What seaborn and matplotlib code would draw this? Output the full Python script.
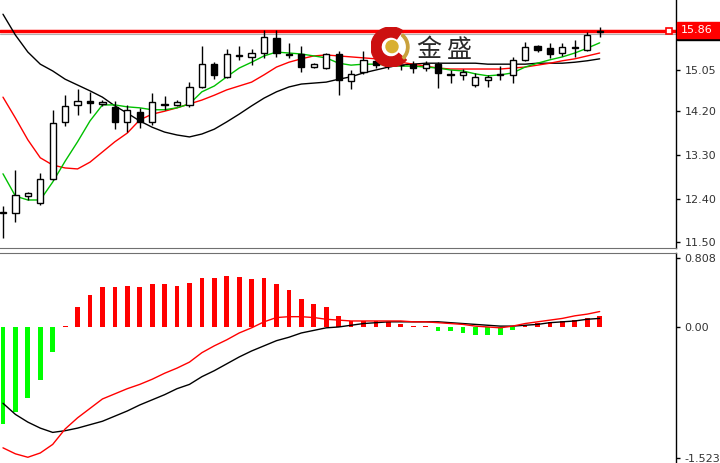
import numpy as np
import pandas as pd
import matplotlib
matplotlib.use("Agg")
import matplotlib.pyplot as plt
import matplotlib.transforms as mtransforms
from matplotlib.patches import Wedge, Circle, Rectangle
import seaborn as sns

# candles (daily)
opens = [12.10, 12.10, 12.45, 12.31, 12.80, 13.98, 14.33, 14.41, 14.35, 14.29,
         13.98, 14.18, 13.98, 14.33, 14.33, 14.33, 14.70, 15.17, 14.91, 15.34,
         15.32, 15.40, 15.71, 15.38, 15.38, 15.11, 15.09, 15.38, 14.82, 15.01,
         15.24, 15.13, 15.15, 15.17, 15.09, 15.17, 14.97, 14.95, 14.74, 14.84,
         14.95, 14.95, 15.26, 15.54, 15.50, 15.40, 15.50, 15.46, 15.83]
highs = [12.25, 12.99, 12.53, 12.93, 14.23, 14.53, 14.66, 14.60, 14.43, 14.41,
         14.33, 14.27, 14.58, 14.51, 14.43, 14.80, 15.54, 15.21, 15.48, 15.54,
         15.48, 15.87, 15.87, 15.61, 15.54, 15.19, 15.40, 15.44, 15.05, 15.44,
         15.30, 15.24, 15.24, 15.24, 15.24, 15.21, 15.05, 15.07, 14.99, 14.95,
         15.13, 15.32, 15.63, 15.57, 15.61, 15.61, 15.67, 15.83, 15.93]
lows = [11.59, 11.92, 12.37, 12.27, 12.78, 13.90, 14.12, 14.16, 14.31, 13.83,
        13.77, 13.85, 13.92, 14.23, 14.31, 14.29, 14.68, 14.86, 14.89, 15.26,
        15.15, 15.30, 15.32, 15.30, 15.01, 15.09, 15.07, 14.53, 14.66, 14.97,
        15.09, 15.07, 15.05, 14.99, 15.03, 14.68, 14.78, 14.84, 14.70, 14.70,
        14.84, 14.78, 15.24, 15.42, 15.30, 15.34, 15.32, 15.44, 15.73]
closes = [12.12, 12.47, 12.51, 12.80, 13.96, 14.31, 14.41, 14.37, 14.39, 13.98,
          14.23, 13.98, 14.39, 14.35, 14.39, 14.70, 15.17, 14.95, 15.38, 15.36,
          15.40, 15.73, 15.40, 15.36, 15.11, 15.17, 15.38, 14.84, 14.97, 15.26,
          15.15, 15.19, 15.16, 15.09, 15.17, 14.99, 14.95, 15.01, 14.91, 14.91,
          14.97, 15.26, 15.52, 15.46, 15.38, 15.52, 15.52, 15.77, 15.86]

# moving averages
ma_fast = [12.91, 12.45, 12.37, 12.37, 12.74, 13.17, 13.57, 14.00, 14.33, 14.33,
           14.29, 14.27, 14.23, 14.23, 14.27, 14.35, 14.60, 14.72, 14.91, 15.09,
           15.21, 15.34, 15.42, 15.40, 15.38, 15.34, 15.30, 15.19, 15.15, 15.17,
           15.17, 15.15, 15.13, 15.13, 15.11, 15.09, 15.05, 15.03, 14.97, 14.93,
           14.95, 14.99, 15.11, 15.19, 15.26, 15.32, 15.40, 15.50, 15.61]
ma_mid = [14.49, 14.06, 13.61, 13.24, 13.09, 13.03, 13.01, 13.15, 13.36, 13.57,
          13.75, 14.02, 14.14, 14.20, 14.27, 14.35, 14.43, 14.53, 14.64, 14.72,
          14.80, 14.95, 15.11, 15.21, 15.28, 15.34, 15.36, 15.34, 15.32, 15.30,
          15.28, 15.24, 15.21, 15.17, 15.13, 15.09, 15.07, 15.07, 15.07, 15.07,
          15.07, 15.09, 15.11, 15.15, 15.19, 15.24, 15.28, 15.34, 15.40]
ma_slow = [16.20, 15.77, 15.42, 15.17, 15.03, 14.86, 14.74, 14.62, 14.49, 14.31,
           14.16, 14.00, 13.87, 13.77, 13.71, 13.67, 13.73, 13.83, 13.98, 14.14,
           14.31, 14.47, 14.60, 14.70, 14.76, 14.78, 14.80, 14.86, 14.91, 14.99,
           15.05, 15.11, 15.15, 15.17, 15.19, 15.19, 15.19, 15.19, 15.19, 15.17,
           15.17, 15.17, 15.17, 15.19, 15.19, 15.19, 15.21, 15.24, 15.28]

# MACD panel
macd_hist = [-1.13, -0.99, -0.83, -0.62, -0.29, 0.01, 0.23, 0.37, 0.47, 0.47,
             0.48, 0.47, 0.50, 0.50, 0.48, 0.51, 0.57, 0.57, 0.60, 0.58,
             0.56, 0.57, 0.50, 0.43, 0.33, 0.27, 0.23, 0.13, 0.07, 0.07,
             0.07, 0.06, 0.03, 0.01, 0.01, -0.05, -0.05, -0.07, -0.09, -0.09,
             -0.09, -0.03, 0.02, 0.05, 0.06, 0.07, 0.08, 0.10, 0.13]
macd_line = [-1.41, -1.48, -1.52, -1.47, -1.37, -1.19, -1.06, -0.95, -0.84, -0.78,
             -0.72, -0.67, -0.61, -0.54, -0.48, -0.41, -0.30, -0.22, -0.15, -0.07,
             -0.01, 0.06, 0.11, 0.12, 0.12, 0.11, 0.09, 0.08, 0.07, 0.07,
             0.07, 0.07, 0.07, 0.06, 0.06, 0.05, 0.04, 0.03, 0.01, 0.00,
             -0.01, 0.01, 0.04, 0.06, 0.08, 0.10, 0.13, 0.15, 0.18]
signal_line = [-0.89, -1.02, -1.11, -1.18, -1.23, -1.21, -1.18, -1.14, -1.10, -1.04,
               -0.98, -0.91, -0.85, -0.79, -0.72, -0.67, -0.58, -0.51, -0.43, -0.35,
               -0.28, -0.22, -0.16, -0.12, -0.07, -0.04, -0.01, 0.00, 0.02, 0.04,
               0.05, 0.06, 0.06, 0.06, 0.06, 0.06, 0.05, 0.04, 0.03, 0.02,
               0.01, 0.01, 0.02, 0.03, 0.05, 0.06, 0.07, 0.09, 0.10]

price_ticks = [15.05, 14.20, 13.30, 12.40, 11.50]
macd_ticks = [0.808, 0.00, -1.523]
macd_tick_labels = ["0.808", "0.00", "-1.523"]
last_price = 15.86
logo_chars = ["金", "盛"]

df = pd.DataFrame({
    "idx": np.arange(len(opens)),
    "open": opens, "high": highs, "low": lows, "close": closes,
    "ma_fast": ma_fast, "ma_mid": ma_mid, "ma_slow": ma_slow,
    "hist": macd_hist, "macd": macd_line, "signal": signal_line,
})

sns.set_style("white")
plt.rcParams["font.family"] = ["DejaVu Sans"]

W, H = 720, 463
fig = plt.figure(figsize=(7.2, 4.63), dpi=100)
plot_w = 676 / W
ax1 = fig.add_axes([0, 1 - 248 / H, plot_w, 248 / H])
ax2 = fig.add_axes([0, 0, plot_w, 210 / H])

# --- price panel ---
ax1.axhline(last_price - 0.06, color="#b0b0b0", lw=0.8, zorder=1)
ax1.axhline(last_price, color="#ff0000", lw=2.5, zorder=1)

sns.lineplot(data=df, x="idx", y="ma_slow", color="black", lw=1, ax=ax1, zorder=2)
sns.lineplot(data=df, x="idx", y="ma_mid", color="#ff0000", lw=1, ax=ax1, zorder=2)
sns.lineplot(data=df, x="idx", y="ma_fast", color="#00c000", lw=1, ax=ax1, zorder=2)

ax1.vlines(df["idx"], df["low"], df["high"], color="black", lw=1, zorder=3)
body_lo = df[["open", "close"]].min(axis=1)
body_h = (df["close"] - df["open"]).abs().clip(lower=0.012)
up = df["close"] >= df["open"]
ax1.bar(df["idx"], body_h, bottom=body_lo, width=0.5,
        color=np.where(up, "white", "black"), edgecolor="black", lw=1, zorder=4)

ax1.set_xlim(-0.24, 54.14)
ax1.set_ylim(11.38, 16.493)

# --- MACD panel ---
hist_colors = np.where(df["hist"] >= 0, "#ff0000", "#00ff00")
ax2.bar(df["idx"], df["hist"], width=0.38, color=hist_colors, lw=0, zorder=2)
sns.lineplot(data=df, x="idx", y="signal", color="black", lw=1, ax=ax2, zorder=3)
sns.lineplot(data=df, x="idx", y="macd", color="#ff0000", lw=1, ax=ax2, zorder=3)
ax2.set_xlim(-0.24, 54.14)
ax2.set_ylim(-1.587, 0.863)

for ax in (ax1, ax2):
    ax.set_xlabel("")
    ax.set_ylabel("")
    ax.set_xticks([])
    ax.yaxis.tick_right()
    ax.tick_params(axis="y", direction="out", length=3, width=1, pad=3,
                   labelsize=8, colors="black", labelcolor="#333333")
    ax.spines["left"].set_visible(False)
    ax.spines["right"].set_color("black")
    ax.spines["right"].set_linewidth(1)
    ax.set_facecolor("white")

ax1.spines["top"].set_visible(False)
ax1.spines["bottom"].set_color("#707070")
ax2.spines["top"].set_color("#707070")
ax2.spines["bottom"].set_visible(False)

ax1.set_yticks(price_ticks)
ax1.set_yticklabels([f"{v:.2f}" for v in price_ticks])
ax2.set_yticks(macd_ticks)
ax2.set_yticklabels(macd_tick_labels)

# current price marker and label
trans = mtransforms.blended_transform_factory(ax1.transAxes, ax1.transData)
ax1.plot([0.99], [last_price], marker="s", ms=5, mfc="white", mec="red",
         mew=1.2, transform=trans, clip_on=False, zorder=5)
fig.patches.append(Rectangle((677 / W, 1 - 40 / H), 43 / W, 4 / H,
                             transform=fig.transFigure, color="black"))
fig.patches.append(Rectangle((677 / W, 1 - 38 / H), 43 / W, 16 / H,
                             transform=fig.transFigure, color="#ff0000"))
fig.text(681 / W, 1 - 30 / H, f"{last_price:.2f}", fontsize=8, color="white",
         ha="left", va="center")

# watermark logo
logo_ax = fig.add_axes([371 / W, 1 - 67 / H, 40 / W, 40 / H])
logo_ax.set_xlim(-1, 1)
logo_ax.set_ylim(-1, 1)
logo_ax.set_aspect("equal")
logo_ax.axis("off")
logo_ax.add_patch(Wedge((0, 0), 1.0, 55, 320, width=0.5, color="#cc1010"))
logo_ax.add_patch(Wedge((0.05, 0), 0.85, -45, 50, width=0.12, color="#c9a13c"))
logo_ax.add_patch(Circle((0.05, 0.02), 0.3, color="#d9b030"))
for ch, px in zip(logo_chars, [416, 447]):
    fig.text(px / W, 1 - 50 / H, ch, fontsize=18, color="#2a2a2a",
             ha="left", va="center", family=["Noto Sans CJK SC"])

fig.savefig("out.png", dpi=100)
